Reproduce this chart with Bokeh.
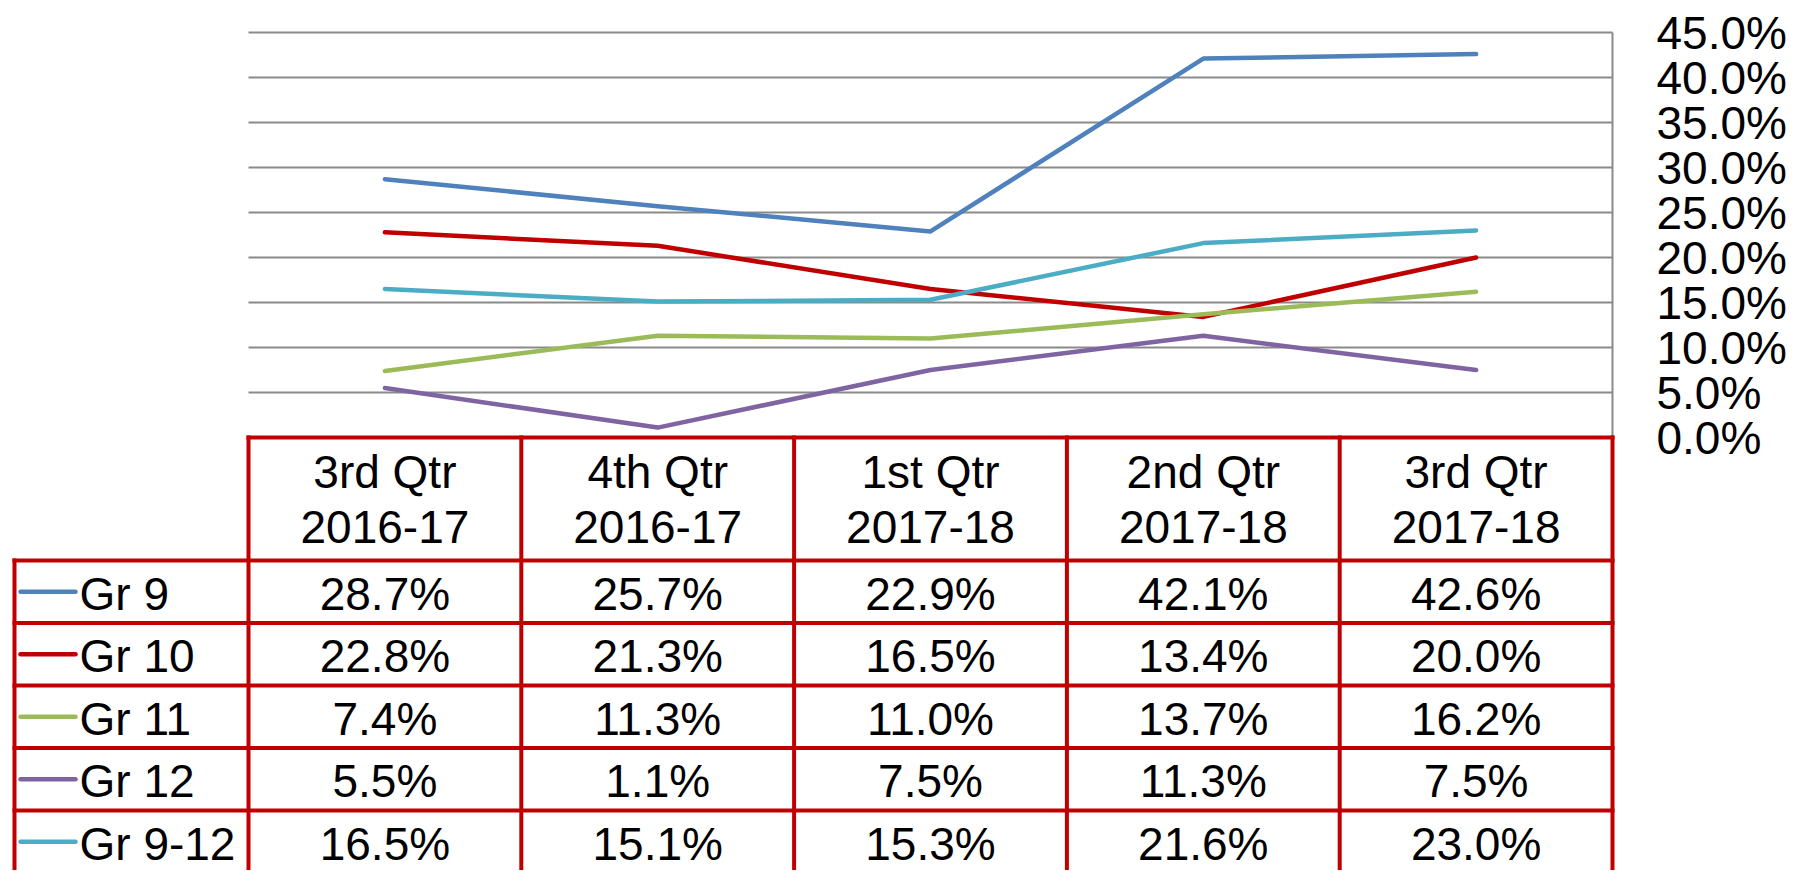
from bokeh.plotting import figure
from bokeh.models import Range1d, FixedTicker, PrintfTickFormatter
from bokeh.core.properties import value
from bokeh.embed import file_html
from bokeh.resources import INLINE

# ---------------- data ----------------
quarters = ["3rd Qtr", "4th Qtr", "1st Qtr", "2nd Qtr", "3rd Qtr"]
years = ["2016-17", "2016-17", "2017-18", "2017-18", "2017-18"]
series_names = ["Gr 9", "Gr 10", "Gr 11", "Gr 12", "Gr 9-12"]
gr9 = [28.7, 25.7, 22.9, 42.1, 42.6]
gr10 = [22.8, 21.3, 16.5, 13.4, 20.0]
gr11 = [7.4, 11.3, 11.0, 13.7, 16.2]
gr12 = [5.5, 1.1, 7.5, 11.3, 7.5]
gr9_12 = [16.5, 15.1, 15.3, 21.6, 23.0]
y_ticks = [0, 5, 10, 15, 20, 25, 30, 35, 40, 45]

series = [gr9, gr10, gr11, gr12, gr9_12]
colors = ["#4F81BD", "#C00000", "#9BBB59", "#8064A2", "#4BACC6"]

# ---------------- layout (pixels) ----------------
PX = 9.0            # pixels per percentage point
COL_PX = 272.8      # width of one quarter column
FRAME_W = 1606
FRAME_H = 870
CHART_LEFT_PX = 238  # frame left -> first column boundary
LEGEND_COL_PX = 234
HEADER_PX = 123
ROW_PX = 62.5
TOP_PX = 437         # frame top -> 0% line
FONT = value("Liberation Sans")
FSIZE = "46px"
RED = "#C00000"

x_start = -0.5 - CHART_LEFT_PX / COL_PX
x_end = x_start + FRAME_W / COL_PX
y_end = TOP_PX / PX
y_start = y_end - FRAME_H / PX

p = figure(frame_width=FRAME_W, frame_height=FRAME_H,
           x_range=Range1d(x_start, x_end), y_range=Range1d(y_start, y_end),
           output_backend="svg", toolbar_location=None,
           x_axis_location=None, y_axis_location="right",
           min_border_left=10, min_border_top=0, min_border_bottom=0,
           min_border_right=178, background_fill_color="white",
           border_fill_color="white")
p.outline_line_color = None
p.xgrid.visible = False
p.ygrid.visible = False

ax = p.yaxis[0]
ax.ticker = FixedTicker(ticks=y_ticks)
ax.formatter = PrintfTickFormatter(format="%.1f%%")
ax.axis_line_color = None
ax.major_tick_line_color = None
ax.minor_tick_line_color = None
ax.major_tick_out = 0
ax.major_tick_in = 0
ax.major_label_standoff = 40
ax.major_label_text_font = "Liberation Sans"
ax.major_label_text_font_size = FSIZE
ax.major_label_text_color = "black"

ncol = len(quarters)
xs = list(range(ncol))
left_edge = -0.5
right_edge = ncol - 0.5

# gridlines
gt = y_ticks[1:]
p.segment(x0=[left_edge] * len(gt), y0=gt, x1=[right_edge] * len(gt), y1=gt,
          line_color="#8A8A8A", line_width=2)
p.segment(x0=[right_edge], y0=[y_ticks[0]], x1=[right_edge], y1=[y_ticks[-1]],
          line_color="#8A8A8A", line_width=2)

# series lines
for vals, c in zip(series, colors):
    p.line(x=xs, y=vals, line_color=c, line_width=4.5,
           line_cap="round", line_join="round")

# ---------------- table ----------------
legend_left = left_edge - LEGEND_COL_PX / COL_PX
header_bottom = -HEADER_PX / PX
row_h = ROW_PX / PX
row_edges = [header_bottom - k * row_h for k in range(len(series_names) + 1)]
col_edges = [left_edge + i for i in range(ncol + 1)]

hx0 = [left_edge] + [legend_left] * (len(row_edges))
hy = [0] + row_edges
p.segment(x0=hx0, y0=hy, x1=[right_edge] * len(hy), y1=hy,
          line_color=RED, line_width=4, line_cap="square")
vx = [legend_left] + col_edges
vy0 = [header_bottom] + [0] * len(col_edges)
p.segment(x0=vx, y0=vy0, x1=vx, y1=[row_edges[-1]] * len(vx),
          line_color=RED, line_width=4, line_cap="square")

# header text
p.text(x=xs, y=[-(471 - 437) / PX] * ncol, text=quarters, text_font=FONT,
       text_font_size=FSIZE, text_align="center", text_baseline="middle",
       text_color="black")
p.text(x=xs, y=[-(526 - 437) / PX] * ncol, text=years, text_font=FONT,
       text_font_size=FSIZE, text_align="center", text_baseline="middle",
       text_color="black")

# body
for r, (name, vals, c) in enumerate(zip(series_names, series, colors)):
    yc = (row_edges[r] + row_edges[r + 1]) / 2 - 2 / PX
    p.text(x=xs, y=[yc] * ncol, text=[f"{v:.1f}%" for v in vals], text_font=FONT,
           text_font_size=FSIZE, text_align="center", text_baseline="middle",
           text_color="black")
    p.segment(x0=[legend_left + 6 / COL_PX], y0=[yc + 2 / PX],
              x1=[legend_left + 61 / COL_PX], y1=[yc + 2 / PX],
              line_color=c, line_width=4.5, line_cap="round")
    p.text(x=[legend_left + 65 / COL_PX], y=[yc], text=[name], text_font=FONT,
           text_font_size=FSIZE, text_align="left", text_baseline="middle",
           text_color="black")

open("out.html", "w").write(file_html(p, INLINE))
